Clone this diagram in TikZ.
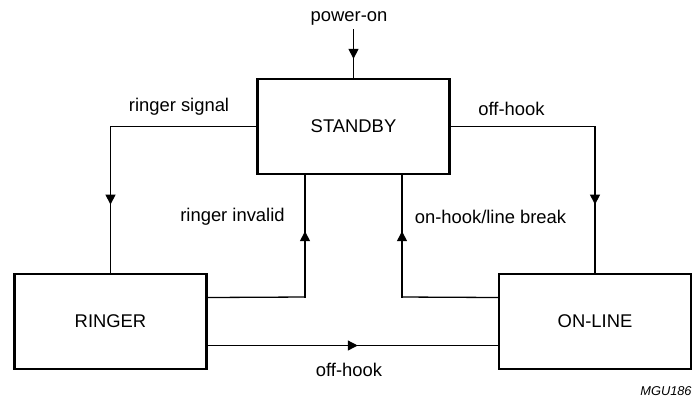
\documentclass[tikz,border=0pt]{standalone}
\usepackage{fontspec}
\setmainfont{Liberation Sans}
\usetikzlibrary{arrows.meta,decorations.markings}

\begin{document}
\begin{tikzpicture}[
    x=0.5pt, y=-0.5pt,
    font=\fontsize{9.2}{11}\selectfont,
    state/.style={draw, line width=1.35pt, minimum width=96pt, minimum height=47.5pt,
                  inner sep=0pt},
    wire/.style={line width=0.65pt, line cap=rect},
    midarrow/.style={wire, postaction={decorate}, decoration={markings,
        mark=at position 0.5 with {\arrow[xshift=2.5pt]{Triangle[length=5pt,width=5pt]}}}},
    lbl/.style={inner sep=0pt},
    code/.style={font=\fontsize{6.4}{8}\selectfont\itshape, anchor=east, inner sep=0pt}
]
\useasboundingbox (0,0) rectangle (694,398);

% ---------- states ----------
\node[state] (standby) at (353.5,126.5) {STANDBY};
\node[state] (ringer) at (110.5,321.5) {RINGER};
\node[state] (online) at (595,321.5) {ON-LINE};

% ---------- power-on ----------
\node[lbl] (pwrlbl) at (349,18) {power-on};
\coordinate (pwr) at (353.5,30);
\draw[midarrow] (pwr) -- (standby.north);

% ---------- standby -> ringer ----------
\coordinate (sigturn) at (ringer.north |- standby.west);
\draw[wire] (standby.west) -- (sigturn);
\draw[midarrow] (sigturn) -- (ringer.north);
\node[lbl] (siglbl) at (179,107) {ringer signal};

% ---------- standby -> on-line ----------
\coordinate (hookturn) at (online.north |- standby.east);
\draw[wire] (standby.east) -- (hookturn);
\draw[midarrow] (hookturn) -- (online.north);
\node[lbl] (hooklbl) at (511.5,109) {off-hook};

% ---------- ringer -> standby ----------
\coordinate (invfrom) at ([yshift=12pt]ringer.east);
\coordinate (invturn) at (305,297);
\draw[wire] (invfrom) -- (invturn);
\draw[midarrow] (invturn) -- (invturn |- standby.south);
\node[lbl] (invlbl) at (232.5,217) {ringer invalid};

% ---------- on-line -> standby ----------
\coordinate (brkfrom) at ([yshift=12pt]online.west);
\coordinate (brkturn) at (402,297);
\draw[wire] (brkfrom) -- (brkturn);
\draw[midarrow] (brkturn) -- (brkturn |- standby.south);
\node[lbl] (brklbl) at (490.5,217) {on-hook/line break};

% ---------- ringer -> on-line ----------
\draw[midarrow] ([yshift=-12pt]ringer.east) -- ([yshift=-12pt]online.west);
\node[lbl] (offlbl) at (349,370) {off-hook};

\node[code] (tag) at (692,391) {MGU186};

\end{tikzpicture}
\end{document}
